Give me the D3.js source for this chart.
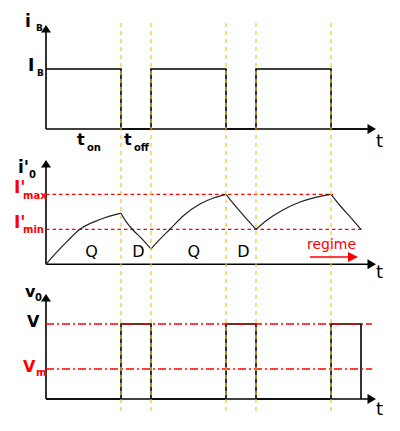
<!DOCTYPE html>
<html><head><meta charset="utf-8">
<script src="https://cdn.jsdelivr.net/npm/d3@7"></script>
<style>body{margin:0;background:#fff}svg{display:block;font-family:"DejaVu Sans",sans-serif}</style>
</head><body><svg id="c" width="400" height="431"></svg>
<script>
// ---- data ----
const switchTimes = [2.5, 3.5, 6, 7, 9.5];           // yellow guide lines (switching instants)
const iBTimes  = [0, 2.5, 3.5, 6, 7, 9.5];
const iBValues = [1, 0, 1, 0, 1, 0];
const v0Times  = [0, 2.5, 3.5, 6, 7, 9.5, 10.5];
const v0Values = [0, 1, 0, 1, 0, 1, 0];
const iOSegments = [
  [[0,0],[0.35,0.17],[0.69,0.32],[1.13,0.5],[1.8,0.64],[2.5,0.73]],
  [[2.5,0.73],[2.67,0.61],[2.9,0.49],[3.23,0.35],[3.5,0.22]],
  [[3.5,0.22],[3.8,0.36],[4.13,0.5],[4.6,0.7],[5.13,0.86],[5.6,0.95],[6,1.0]],
  [[6,1.0],[6.24,0.87],[6.58,0.7],[7,0.5]],
  [[7,0.5],[7.36,0.63],[7.91,0.78],[8.47,0.89],[9.02,0.96],[9.5,1.0]],
  [[9.5,1.0],[9.8,0.84],[10.13,0.68],[10.5,0.5]]
];
const IMax = 1.0, IMin = 0.5, IMaxEnd = 9.57, IMinEnd = 10.55;
const VLevel = 1.0, VmLevel = 0.4, VLineEnd = 10.87;
const QDLabels = [["Q",1.52],["D",3.08],["Q",4.93],["D",6.58]];
const tEnd = 11;

const svg = d3.select("#c");
const x = d3.scaleLinear().domain([0, tEnd]).range([46, 376]);
const y1 = d3.scaleLinear().domain([0, 1]).range([129, 69]);
const y2 = d3.scaleLinear().domain([0, 1]).range([264.3, 194.3]);
const y3 = d3.scaleLinear().domain([0, 1]).range([399, 324]);
const RED = "#ff0000", YEL = "#f2c12e";

function axes(y, top) {
  const g = svg.append("g");
  g.append("line").attr("x1", x(0)).attr("x2", x(tEnd) - 6).attr("y1", y(0)).attr("y2", y(0))
    .attr("stroke", "#000").attr("stroke-width", 1.6);
  g.append("line").attr("x1", x(0)).attr("x2", x(0)).attr("y1", y(0)).attr("y2", top + 5)
    .attr("stroke", "#000").attr("stroke-width", 1.6);
  g.append("path").attr("d", `M${x(0)},${top} L${x(0)-5},${top+7.5} L${x(0)+5},${top+7.5} Z`).attr("fill", "#000");
  const tx = x(tEnd), ty = y(0);
  g.append("path").attr("d", `M${tx},${ty} L${tx-8.5},${ty-5} L${tx-8.5},${ty+5} Z`).attr("fill", "#000");
}
axes(y1, 25); axes(y2, 160); axes(y3, 294);

// step signals
const stepLine = (y) => d3.line().x(d => x(d[0])).y(d => y(d[1])).curve(d3.curveStepAfter);
const iBData = iBTimes.map((t, i) => [t, iBValues[i]]).concat([[tEnd - 0.3, 0]]);
svg.append("path").attr("d", stepLine(y1)(iBData)).attr("fill", "none").attr("stroke", "#000").attr("stroke-width", 1.6);
const v0Data = v0Times.map((t, i) => [t, v0Values[i]]);
svg.append("path").attr("d", stepLine(y3)(v0Data)).attr("fill", "none").attr("stroke", "#000").attr("stroke-width", 1.6);

// red reference lines
svg.append("line").attr("x1", x(0)).attr("x2", x(IMaxEnd)).attr("y1", y2(IMax)).attr("y2", y2(IMax))
  .attr("stroke", RED).attr("stroke-width", 1.3).attr("stroke-dasharray", "3.5,3");
svg.append("line").attr("x1", x(0)).attr("x2", x(IMinEnd)).attr("y1", y2(IMin)).attr("y2", y2(IMin))
  .attr("stroke", RED).attr("stroke-width", 1.3).attr("stroke-dasharray", "3.5,3");
[VLevel, VmLevel].forEach(v => {
  svg.append("line").attr("x1", x(0)).attr("x2", x(VLineEnd)).attr("y1", y3(v)).attr("y2", y3(v))
    .attr("stroke", RED).attr("stroke-width", 1.3).attr("stroke-dasharray", "8,3,2,3");
});

// current curve
const curve = d3.line().x(d => x(d[0])).y(d => y2(d[1])).curve(d3.curveMonotoneX);
iOSegments.forEach(s => svg.append("path").attr("d", curve(s)).attr("fill", "none")
  .attr("stroke", "#222").attr("stroke-width", 1.2));

// yellow guides
switchTimes.forEach(t => svg.append("line").attr("x1", x(t)).attr("x2", x(t)).attr("y1", 23).attr("y2", 411)
  .attr("stroke", YEL).attr("stroke-width", 1.2).attr("stroke-dasharray", "4,4"));

// regime arrow
svg.append("line").attr("x1", 310).attr("x2", 349).attr("y1", 257).attr("y2", 257).attr("stroke", RED).attr("stroke-width", 1.6);
svg.append("path").attr("d", "M358,257 L348,252 L348,262 Z").attr("fill", RED);

// labels
function lab(txt, px, py, size, opts = {}) {
  svg.append("text").attr("x", px).attr("y", py).attr("font-size", size)
    .attr("font-weight", opts.bold ? "bold" : "normal").attr("fill", opts.color || "#000")
    .attr("text-anchor", opts.anchor || "start").text(txt);
}
lab("i", 25, 27, 17, {bold:true}); lab("B", 36, 31, 9, {bold:true});
lab("I", 28, 71, 17, {bold:true}); lab("B", 37, 76, 9, {bold:true});
lab("t", 77, 145, 16, {bold:true}); lab("on", 87, 151, 10, {bold:true});
lab("t", 124, 145, 16, {bold:true}); lab("off", 134, 151, 10, {bold:true});
lab("t", 376, 147, 18);
lab("i'", 18, 173, 17, {bold:true}); lab("0", 29, 178, 10, {bold:true});
lab("I'", 14, 193, 17, {bold:true, color:RED}); lab("max", 23, 199, 10, {bold:true, color:RED});
lab("I'", 14, 228, 17, {bold:true, color:RED}); lab("min", 23, 233, 10, {bold:true, color:RED});
QDLabels.forEach(([s, t]) => lab(s, x(t), 257, 16, {anchor:"middle"}));
lab("regime", 307, 249, 14, {color:RED});
lab("t", 376, 278, 18);
lab("v", 25, 297, 16, {bold:true}); lab("0", 35, 301, 10, {bold:true});
lab("V", 27, 327, 16, {bold:true});
lab("V", 23, 372, 16, {bold:true, color:RED}); lab("m", 36, 376, 10, {bold:true, color:RED});
lab("t", 376, 415, 18);
</script></body></html>
